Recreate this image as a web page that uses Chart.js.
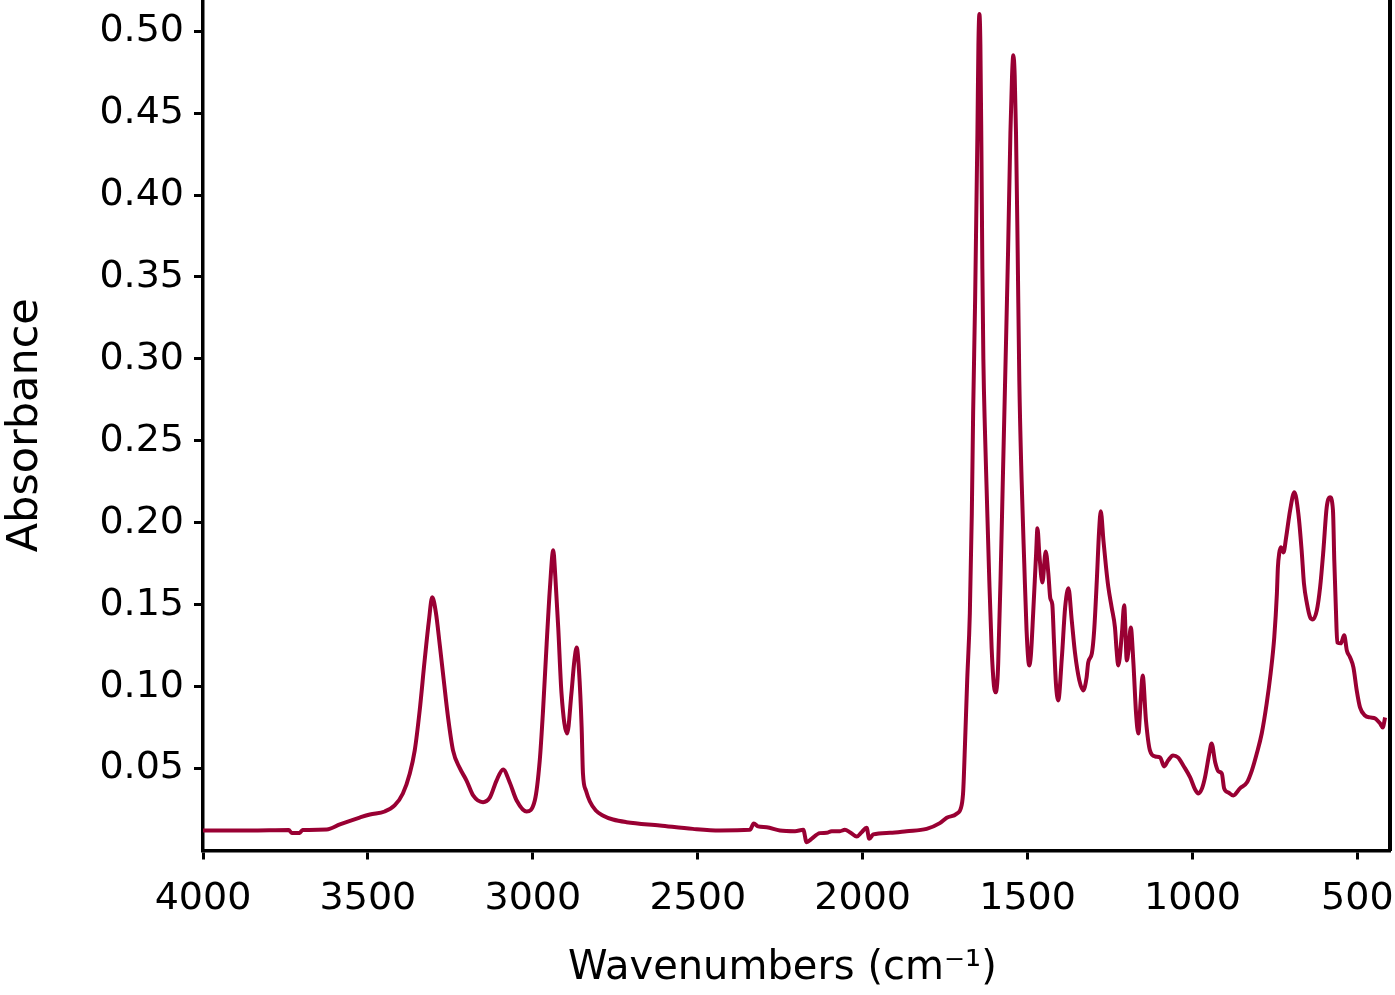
<!DOCTYPE html>
<html>
<head>
<meta charset="utf-8">
<script src="https://cdn.jsdelivr.net/npm/chart.js@4/dist/chart.umd.min.js"></script>
<style>
  body { margin: 0; background: #fff; }
  #wrap { width: 1395px; height: 995px; }
</style>
</head>
<body>
<div id="wrap"><canvas id="spectrum" width="1395" height="995"></canvas></div>
<script>
// spectrum (wavenumber in cm-1, absorbance)
const wavenumbers = [
  4000, 3858, 3740, 3731, 3707, 3698, 3625, 3585, 3525, 3494, 3449, 3419, 3394, 3373, 3358, 3343,
  3328, 3315, 3305, 3294, 3282, 3270, 3257, 3242, 3221, 3201, 3181, 3151, 3130, 3110, 3090, 3070,
  3049, 3019, 2994, 2979, 2969, 2958, 2948, 2938, 2932, 2923, 2913, 2896, 2883, 2874, 2867, 2860,
  2852, 2848, 2839, 2827, 2809, 2788, 2757, 2716, 2615, 2515, 2433, 2342, 2330, 2317, 2291, 2251,
  2205, 2180, 2170, 2155, 2130, 2109, 2094, 2069, 2054, 2039, 2018, 2003, 1988, 1980, 1968, 1917,
  1867, 1806, 1766, 1745, 1715, 1700, 1695, 1690, 1683, 1675, 1669, 1665, 1659, 1652, 1649, 1646,
  1643, 1640, 1637, 1634, 1629, 1624, 1616, 1609, 1602, 1597, 1592, 1589, 1582, 1575, 1568, 1559, 1552, 1547,
  1543, 1539, 1535, 1530, 1525, 1518, 1510, 1503, 1495, 1490, 1483, 1474, 1470, 1464, 1455, 1445,
  1437, 1431, 1425, 1420, 1414, 1407, 1396, 1386, 1376, 1366, 1356, 1343, 1331, 1321, 1316, 1305,
  1298, 1290, 1283, 1278, 1270, 1262, 1255, 1245, 1235, 1230, 1225, 1214, 1207, 1199, 1194, 1187,
  1179, 1171, 1164, 1157, 1151, 1141, 1129, 1113, 1098, 1086, 1074, 1059, 1044, 1026, 1007, 992,
  982, 971, 962, 949, 942, 931, 921, 911, 904, 891, 876, 856, 835, 820, 805, 790,
  775, 763, 752, 744, 741, 737, 732, 724, 716, 704, 691, 679, 669, 662, 653, 643,
  635, 623, 613, 603, 593, 583, 574, 570, 565, 561, 550, 540, 532, 522, 512, 502,
  492, 477, 461, 446, 431, 423, 416
];
const absorbance = [
  0.0122, 0.0122, 0.0125, 0.0107, 0.0107, 0.0125, 0.0128, 0.0159, 0.0201, 0.0220, 0.0238, 0.0275, 0.0348, 0.0470, 0.0611, 0.0855,
  0.1160, 0.1404, 0.1545, 0.1453, 0.1252, 0.1038, 0.0812, 0.0611, 0.0501, 0.0427, 0.0336, 0.0295, 0.0324, 0.0427, 0.0495, 0.0415,
  0.0305, 0.0238, 0.0305, 0.0549, 0.0855, 0.1264, 0.1606, 0.1832, 0.1679, 0.1361, 0.0958, 0.0714, 0.0958, 0.1160, 0.1239, 0.1099,
  0.0751, 0.0470, 0.0366, 0.0299, 0.0244, 0.0214, 0.0189, 0.0173, 0.0153, 0.0132, 0.0122, 0.0126, 0.0165, 0.0147, 0.0142, 0.0122,
  0.0118, 0.0126, 0.0051, 0.0071, 0.0106, 0.0108, 0.0118, 0.0118, 0.0126, 0.0112, 0.0085, 0.0112, 0.0139, 0.0071, 0.0098, 0.0108,
  0.0118, 0.0132, 0.0167, 0.0200, 0.0224, 0.0275, 0.0366, 0.0629, 0.1038, 0.1447, 0.2057, 0.2668, 0.3358, 0.4377, 0.4915, 0.5104,
  0.4915, 0.4300, 0.3550, 0.3000, 0.2550, 0.2200, 0.1648, 0.1239, 0.1007, 0.0965, 0.1020, 0.1142, 0.1648, 0.2259, 0.2869, 0.3663, 0.4377, 0.4731,
  0.4853, 0.4731, 0.4377, 0.3663, 0.2869, 0.2259, 0.1752, 0.1343, 0.1129, 0.1190, 0.1447, 0.1813, 0.1966, 0.1801, 0.1636, 0.1825,
  0.1691, 0.1538, 0.1502, 0.1282, 0.1020, 0.0916, 0.1178, 0.1484, 0.1600, 0.1404, 0.1203, 0.1038, 0.0977, 0.1056, 0.1148, 0.1203,
  0.1343, 0.1648, 0.1954, 0.2070, 0.1893, 0.1728, 0.1606, 0.1484, 0.1361, 0.1221, 0.1129, 0.1325, 0.1496, 0.1160, 0.1221, 0.1361,
  0.1142, 0.0836, 0.0714, 0.0916, 0.1068, 0.0794, 0.0611, 0.0574, 0.0568, 0.0513, 0.0549, 0.0580, 0.0568, 0.0513, 0.0446, 0.0372,
  0.0348, 0.0379, 0.0446, 0.0592, 0.0653, 0.0537, 0.0482, 0.0470, 0.0379, 0.0354, 0.0336, 0.0379, 0.0415, 0.0488, 0.0592, 0.0714,
  0.0897, 0.1081, 0.1300, 0.1569, 0.1728, 0.1813, 0.1850, 0.1819, 0.1911, 0.2076, 0.2186, 0.2057, 0.1832, 0.1630, 0.1508, 0.1422,
  0.1410, 0.1465, 0.1606, 0.1832, 0.2094, 0.2155, 0.2076, 0.1770, 0.1465, 0.1270, 0.1264, 0.1313, 0.1221, 0.1178, 0.1117, 0.0977,
  0.0873, 0.0824, 0.0812, 0.0806, 0.0775, 0.0751, 0.0812
];
const xTicks = [4000, 3500, 3000, 2500, 2000, 1500, 1000, 500];
const yTicks = [0.05, 0.10, 0.15, 0.20, 0.25, 0.30, 0.35, 0.40, 0.45, 0.50];

const lineColor = '#990033';
const tickFont = { family: 'DejaVu Sans', size: 38 };
const titleFont = { family: 'DejaVu Sans', size: 40 };

const points = wavenumbers.map((w, i) => ({ x: w, y: absorbance[i] }));

function noPad(scale) {
  scale.paddingTop = 0;
  scale.paddingBottom = 0;
  scale.paddingLeft = 0;
  scale.paddingRight = 0;
}

const ctx = document.getElementById('spectrum').getContext('2d');
new Chart(ctx, {
  type: 'line',
  data: {
    datasets: [{
      data: points,
      borderColor: lineColor,
      borderWidth: 4,
      pointRadius: 0,
      cubicInterpolationMode: 'monotone',
      fill: false
    }]
  },
  options: {
    responsive: false,
    animation: false,
    layout: { padding: 0 },
    plugins: {
      legend: { display: false },
      tooltip: { enabled: false }
    },
    scales: {
      x: {
        type: 'linear',
        reverse: true,
        min: 402,
        max: 4000,
        afterBuildTicks: s => { s.ticks = xTicks.map(v => ({ value: v })); },
        afterFit: s => { s.height = 144.5; noPad(s); },
        border: { display: true, color: '#000', width: 3.5 },
        grid: { display: true, drawOnChartArea: false, drawTicks: true, tickLength: 9, lineWidth: 3, color: '#000' },
        ticks: { color: '#000', font: tickFont, padding: 17, maxRotation: 0, autoSkip: false, callback: v => String(v) },
        title: { display: true, text: 'Wavenumbers (cm\u207B\u00B9)\u2002\u2009', color: '#000', font: titleFont, padding: { top: 0, bottom: 2 } }
      },
      y: {
        min: 0,
        max: 0.519,
        afterBuildTicks: s => { s.ticks = yTicks.map(v => ({ value: v })); },
        afterFit: s => { s.width = 203; noPad(s); },
        border: { display: true, color: '#000', width: 3.5 },
        grid: { display: true, drawOnChartArea: false, drawTicks: true, tickLength: 9, lineWidth: 3, color: '#000' },
        ticks: { color: '#000', font: tickFont, padding: 10, autoSkip: false, callback: v => v.toFixed(2) },
        title: { display: true, text: 'Absorbance', color: '#000', font: { family: 'DejaVu Sans', size: 43 }, padding: { top: 0, bottom: 0 } }
      },
      y2: {
        position: 'right',
        min: 0,
        max: 0.519,
        afterFit: s => { s.width = 5.3; noPad(s); },
        border: { display: true, color: '#000', width: 4 },
        grid: { display: false },
        ticks: { display: false }
      }
    }
  }
});
</script>
</body>
</html>
